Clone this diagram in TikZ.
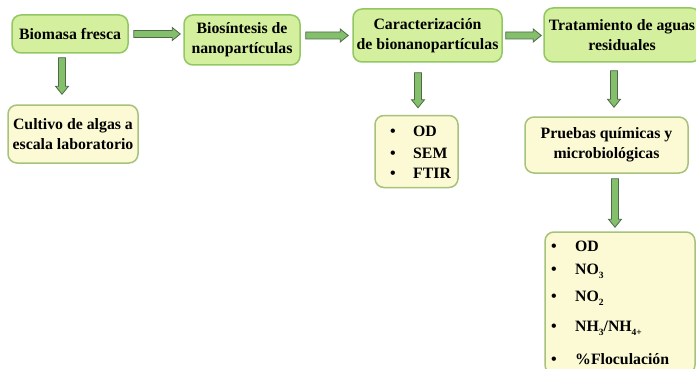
\documentclass[tikz,border=0pt]{standalone}
\usepackage{fontspec}
\setmainfont{Liberation Serif}
\usetikzlibrary{calc}
\definecolor{gfill}{HTML}{D4EF9E}
\definecolor{gline}{HTML}{93C763}
\definecolor{yfill}{HTML}{FBFAD4}
\definecolor{yline}{HTML}{A7C27A}
\definecolor{afill}{HTML}{84BF6C}
\definecolor{aline}{HTML}{4E6A48}
\newcommand{\harr}[2]{\draw[barrow] let \p1=(#1), \p2=(#2) in (\x1,\y1+3.5pt) -- (\x2-8pt,\y1+3.5pt) -- (\x2-8pt,\y1+6.5pt) -- (\x2,\y1) -- (\x2-8pt,\y1-6.5pt) -- (\x2-8pt,\y1-3.5pt) -- (\x1,\y1-3.5pt) -- cycle;}
\newcommand{\varr}[2]{\draw[barrow] let \p1=(#1), \p2=(#2) in (\x1-3.5pt,\y1) -- (\x1-3.5pt,\y2+8pt) -- (\x1-6.5pt,\y2+8pt) -- (\x1,\y2) -- (\x1+6.5pt,\y2+8pt) -- (\x1+3.5pt,\y2+8pt) -- (\x1+3.5pt,\y1) -- cycle;}
\newcommand{\lowsub}[1]{\raisebox{-4.5pt}{\fontsize{9.5}{9.5}\selectfont #1}}
\tikzset{
  box/.style={rounded corners=9pt, line width=1.5pt, align=center, inner sep=2pt,
    font=\fontsize{15.8}{20}\selectfont\bfseries},
  gbox/.style={box, draw=gline, fill=gfill},
  ybox/.style={box, draw=yline, fill=yfill},
  barrow/.style={draw=aline, fill=afill, line width=0.8pt, line join=miter},
  itm/.style={anchor=base west, inner sep=0pt, font=\fontsize{15.8}{20}\selectfont\bfseries},
  bul/.style={anchor=base, inner sep=0pt, font=\fontsize{16}{16}\selectfont\bfseries}
}
\begin{document}
\begin{tikzpicture}[x=1pt,y=-1pt]
\useasboundingbox[fill=white] (0,0) rectangle (696,369);
% top row
\node[gbox, minimum width=116pt, minimum height=38pt] (b1) at (70,34) {Biomasa fresca};
\node[gbox, minimum width=116pt, minimum height=50pt] (b2) at (242,40) {Biosíntesis de\\nanopartículas};
\node[gbox, minimum width=149pt, minimum height=53pt] (b3) at (427.5,35.5) {Caracterización\\de bionanopartículas};
\node[gbox, minimum width=156pt, minimum height=54pt] (b4) at (622,35) {Tratamiento de aguas\\residuales};
% lower boxes
\node[ybox, minimum width=130pt, minimum height=58pt] (b5) at (73,134) {Cultivo de algas a\\escala laboratorio};
\node[ybox, minimum width=83pt, minimum height=72pt] (b6) at (416.5,151.5) {};
\node[ybox, minimum width=163pt, minimum height=56pt] (b7) at (606.5,145) {Pruebas químicas y\\microbiológicas};
\node[ybox, minimum width=150pt, minimum height=142pt] (b8) at (620,303) {};
% list 1
\node[bul] (d11) at (393,136) {•};
\node[bul] (d12) at (393,158) {•};
\node[bul] (d13) at (393,178) {•};
\node[itm] (t11) at (413,136) {OD};
\node[itm] (t12) at (413,158) {SEM};
\node[itm] (t13) at (413,178) {FTIR};
% list 2
\node[bul] (d21) at (554,251) {•};
\node[bul] (d22) at (554,274) {•};
\node[bul] (d23) at (554,301) {•};
\node[bul] (d24) at (554,331) {•};
\node[bul] (d25) at (554,364) {•};
\node[itm] (t21) at (575,251) {OD};
\node[itm] (t22) at (575,274) {NO\lowsub{3}};
\node[itm] (t23) at (575,301) {NO\lowsub{2}};
\node[itm] (t24) at (575,331) {NH\lowsub{3}/NH\lowsub{4+}};
\node[itm] (t25) at (575,364) {\%Floculación};
% arrows
\harr{$(b1.east)+(5pt,0)$}{$(b2.west)+(-3pt,0)$}
\harr{$(b2.east|-b3.west)+(5pt,0)$}{$(b3.west)+(-4pt,0)$}
\harr{$(b3.east)+(3pt,0)$}{$(b4.west)+(-2pt,0)$}
\varr{$(b1.south)+(-8pt,-4pt)$}{$(b5.north)+(0,10pt)$}
\varr{$(b6.north|-b3.south)+(1.5pt,-10pt)$}{$(b6.north)+(0,7pt)$}
\varr{$(b4.south)+(-8pt,-8pt)$}{$(b7.north)+(0,9pt)$}
\varr{$(b7.south)+(8.5pt,-5pt)$}{$(b8.north)+(0,4pt)$}
\end{tikzpicture}
\end{document}
